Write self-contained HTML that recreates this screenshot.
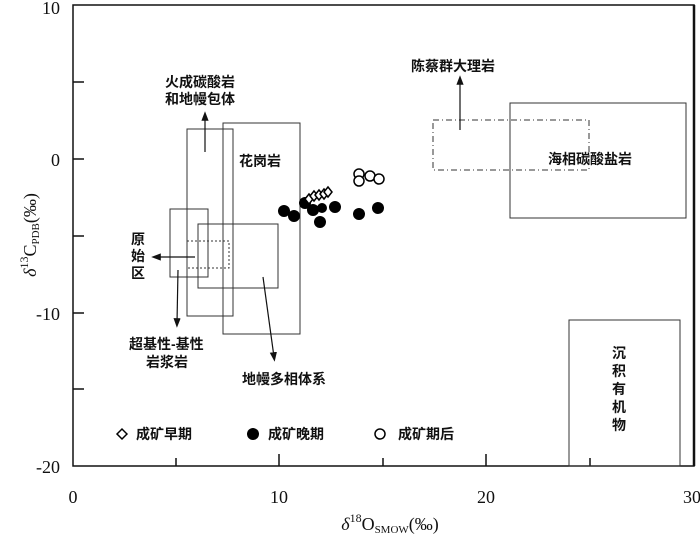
<!DOCTYPE html>
<html><head><meta charset="utf-8"><style>
html,body{margin:0;padding:0;background:#fff;}
svg{display:block;}
.cj{font-family:"Liberation Sans","Noto Sans CJK SC",sans-serif;font-size:14px;fill:#111;font-weight:600;}
.nm{font-family:"Liberation Serif",serif;font-size:18px;fill:#111;}
</style></head><body>
<svg width="700" height="542" viewBox="0 0 700 542" xmlns="http://www.w3.org/2000/svg">
<defs><marker id="a" markerWidth="8" markerHeight="8" refX="4" refY="4" orient="auto"><path d="M0,1 L8,4 L0,7 z" fill="#111"/></marker></defs>
<rect x="73" y="5" width="621" height="461" fill="none" stroke="#111" stroke-width="1.5"/>
<line x1="694" y1="5" x2="694" y2="466" stroke="#111" stroke-width="2.5"/>
<g stroke="#111" stroke-width="1.5">
<line x1="73" y1="82" x2="84" y2="82"/><line x1="73" y1="159" x2="84" y2="159"/><line x1="73" y1="236" x2="84" y2="236"/><line x1="73" y1="313" x2="84" y2="313"/><line x1="73" y1="389" x2="84" y2="389"/>
<line x1="176" y1="466" x2="176" y2="458"/><line x1="279" y1="466" x2="279" y2="454"/><line x1="383" y1="466" x2="383" y2="458"/><line x1="486" y1="466" x2="486" y2="454"/><line x1="590" y1="466" x2="590" y2="458"/>
</g>
<g class="nm" text-anchor="end"><text x="60" y="14">10</text><text x="60" y="166">0</text><text x="60" y="320">-10</text><text x="60" y="473">-20</text></g>
<g class="nm" text-anchor="middle"><text x="73" y="503">0</text><text x="279" y="503">10</text><text x="486" y="503">20</text><text x="692" y="503">30</text></g>
<text class="nm" x="390" y="530" text-anchor="middle" font-size="20"><tspan font-style="italic">δ</tspan><tspan font-size="12" dy="-8">18</tspan><tspan dy="8">O</tspan><tspan font-size="11" dy="3">SMOW</tspan><tspan dy="-3">(‰)</tspan></text>
<text class="nm" transform="translate(36,235) rotate(-90)" text-anchor="middle" font-size="20"><tspan font-style="italic">δ</tspan><tspan font-size="12" dy="-8">13</tspan><tspan dy="8">C</tspan><tspan font-size="11" dy="3">PDB</tspan><tspan dy="-3">(‰)</tspan></text>
<g fill="none" stroke="#333" stroke-width="1">
<rect x="187" y="129" width="46" height="187"/>
<rect x="223" y="123" width="77" height="211"/>
<rect x="170" y="209" width="38" height="68"/>
<rect x="198" y="224" width="80" height="64"/>
<rect x="187" y="241" width="42" height="27" stroke-dasharray="2,2"/>
<rect x="510" y="103" width="176" height="115"/>
<rect x="569" y="320" width="111" height="146"/>
<rect x="433" y="120" width="156" height="50" stroke-dasharray="6,3,1,3"/>
</g>
<g stroke="#111" stroke-width="1.2" marker-end="url(#a)">
<line x1="205" y1="152" x2="205" y2="116"/>
<line x1="195" y1="257" x2="156" y2="257"/>
<line x1="178" y1="270" x2="177" y2="323"/>
<line x1="263" y1="277" x2="274" y2="357"/>
<line x1="460" y1="130" x2="460" y2="80"/>
</g>
<g class="cj">
<text x="165" y="87">火成碳酸岩</text><text x="165" y="104">和地幔包体</text>
<text x="239" y="166">花岗岩</text>
<text x="131" y="244">原</text><text x="131" y="261">始</text><text x="131" y="278">区</text>
<text x="129" y="349">超基性-基性</text><text x="146" y="367">岩浆岩</text>
<text x="242" y="384">地幔多相体系</text>
<text x="411" y="71">陈蔡群大理岩</text>
<text x="548" y="164">海相碳酸盐岩</text>
<text x="612" y="358">沉</text><text x="612" y="376">积</text><text x="612" y="394">有</text><text x="612" y="412">机</text><text x="612" y="430">物</text>
<text x="136" y="439">成矿早期</text><text x="268" y="439">成矿晚期</text><text x="398" y="439">成矿期后</text>
</g>
<g fill="#000">
<circle cx="284" cy="211" r="6"/><circle cx="294" cy="216" r="6"/><circle cx="305" cy="203" r="6"/><circle cx="313" cy="210" r="6"/>
<circle cx="320" cy="222" r="6"/><circle cx="322" cy="208" r="5"/><circle cx="335" cy="207" r="6"/><circle cx="359" cy="214" r="6"/><circle cx="378" cy="208" r="6"/>
<circle cx="253" cy="434" r="6"/>
</g>
<g fill="#fff" stroke="#000" stroke-width="1.5">
<path d="M305 199 l4 -5 4 5 -4 5z"/><path d="M310 196 l4 -5 4 5 -4 5z"/><path d="M315 195 l4 -5 4 5 -4 5z"/><path d="M320 194 l4 -5 4 5 -4 5z"/><path d="M324 192 l4 -5 4 5 -4 5z"/>
<path d="M117 434 l5 -5 5 5 -5 5z"/>
<circle cx="359" cy="174" r="5"/><circle cx="359" cy="181" r="5"/><circle cx="370" cy="176" r="5"/><circle cx="379" cy="179" r="5"/>
<circle cx="380" cy="434" r="5"/>
</g>
</svg>
</body></html>
